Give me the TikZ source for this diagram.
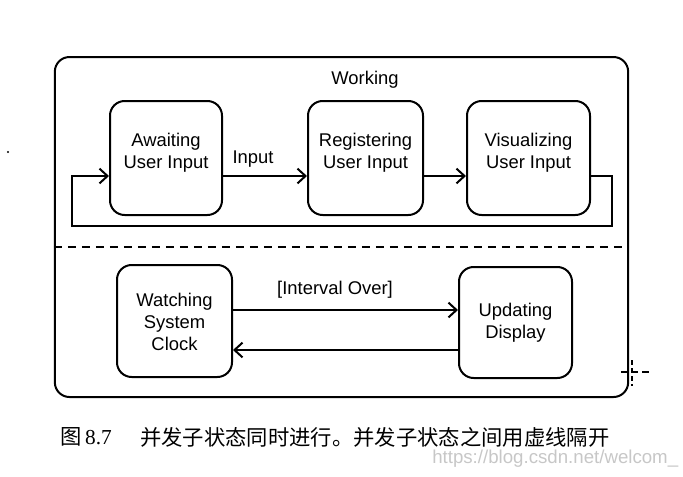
\documentclass[tikz,border=0pt]{standalone}
\usepackage{fontspec}
\setmainfont{Liberation Sans}
\newfontfamily\cjk{Noto Sans CJK SC}
\newfontfamily\serifnum{Liberation Serif}
\usetikzlibrary{arrows.meta}
\begin{document}
\begin{tikzpicture}[x=0.75pt,y=-0.75pt,
  box/.style={draw,line width=1.5pt,rounded corners=11pt,inner sep=0pt},
  lbl/.style={font=\fontsize{13.8}{16.5}\selectfont,align=center,inner sep=0pt},
  arr/.style={line width=1.5pt,-{Straight Barb[length=6pt,width=11pt,line width=1.5pt]}},
  ln/.style={line width=1.5pt}]
\useasboundingbox (0,0) rectangle (683,476);
% outer composite state
\node[box,minimum width=430pt,minimum height=255pt] (outer) at (341.5,227) {};
\node[lbl] (working) at (365,80) {Working};
\draw[line width=1.5pt,dash pattern=on 6pt off 4.5pt] (outer.west |- 0,247) coordinate (dl) -- (outer.east |- dl);
% upper region
\node[box,minimum width=84pt,minimum height=85.5pt] (aw) at (166,158) {};
\node[lbl] (awt) at (166,153) {Awaiting\\User Input};
\node[box,minimum width=86.25pt,minimum height=85.5pt] (reg) at (365.5,158) {};
\node[lbl] (regt) at (365.5,153) {Registering\\User Input};
\node[box,minimum width=92.25pt,minimum height=85.5pt] (vis) at (528.5,158) {};
\node[lbl] (vist) at (528.5,153) {Visualizing\\User Input};
\coordinate (r1) at (0,176);
\coordinate (lr) at (612,226);
\coordinate (ll) at (72,226);
\draw[arr] (aw.east |- r1) -- (reg.west |- r1);
\node[lbl] (inp) at (253,159) {Input};
\draw[arr] (reg.east |- r1) -- (vis.west |- r1);
\draw[arr] (vis.east |- r1) -| (lr) -- (ll) |- (aw.west |- r1);
% lower region
\node[box,minimum width=86.25pt,minimum height=84pt] (wat) at (174.5,321) {};
\node[lbl] (watt) at (174.5,322) {Watching\\System\\Clock};
\node[box,minimum width=84.75pt,minimum height=83.25pt] (upd) at (515.5,322.5) {};
\node[lbl] (updt) at (515.5,323) {Updating\\Display};
\coordinate (r2) at (0,310);
\coordinate (r3) at (0,350);
\draw[arr] (wat.east |- r2) -- (upd.west |- r2);
\node[lbl] (int) at (335,290) {[Interval Over]};
\draw[arr] (upd.west |- r3) -- (wat.east |- r3);
% crosshair mark
\draw[line width=0.8pt,dash pattern=on 4pt off 2pt] (632,360) -- (632,386);
\draw[line width=0.8pt,dash pattern=on 5pt off 3pt] (621,372) -- (649,372);
\fill (8,152) circle (0.8pt);
% caption
\node[anchor=west,inner sep=0pt,font=\fontsize{16}{18}\selectfont] (cap1) at (60,437) {\cjk 图\,\serifnum 8.7};
\node[anchor=west,inner sep=0pt,font=\fontsize{16}{18}\selectfont] (cap2) at (140,437) {\cjk 并发子状态同时进行。并发子状态之间用虚线隔开};
\node[anchor=west,inner sep=0pt,text=black!22,font=\fontsize{14}{16}\selectfont] (wm) at (432,459) {https://blog.csdn.net/welcom\_};
\end{tikzpicture}
\end{document}
